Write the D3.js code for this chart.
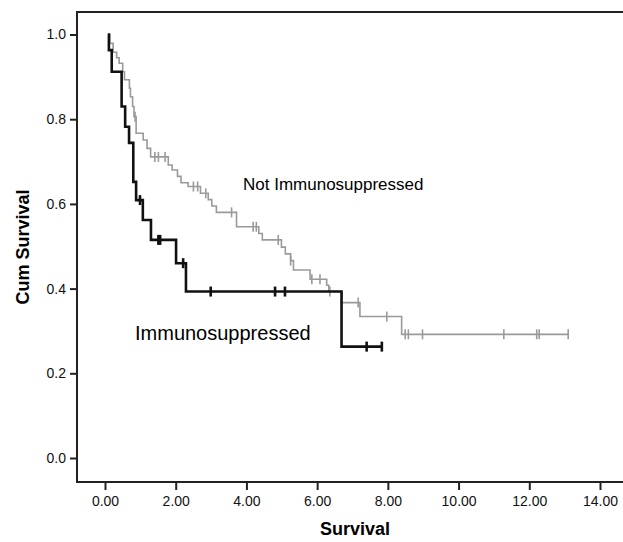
<!DOCTYPE html>
<html>
<head>
<meta charset="utf-8">
<script src="https://cdn.jsdelivr.net/npm/d3@7"></script>
<style>
  body { margin: 0; background: #fff; }
  text { font-family: Arial, "Liberation Sans", sans-serif; }
</style>
</head>
<body>
<div class="box"></div>
<script>
// DATA

const xTicks = [0, 2, 4, 6, 8, 10, 12, 14];
const yTicks = [0, 0.2, 0.4, 0.6, 0.8, 1.0];

// Immunosuppressed: step curve (time, cum survival after step)
const immTime = [0.08, 0.11, 0.19, 0.47, 0.57, 0.68, 0.80, 0.88, 1.07, 1.30, 2.01, 2.29, 6.69, 7.83];
const immSurv = [1.0, 0.963, 0.912, 0.830, 0.782, 0.744, 0.652, 0.609, 0.562, 0.515, 0.460, 0.393, 0.263, 0.263];
const immCensTime = [0.99, 1.51, 1.56, 2.21, 2.99, 4.81, 5.09, 7.40, 7.83];
const immCensSurv = [0.609, 0.515, 0.515, 0.460, 0.393, 0.393, 0.393, 0.263, 0.263];

// Not Immunosuppressed
const notTime = [0.10, 0.14, 0.23, 0.33, 0.40, 0.50, 0.55, 0.69, 0.72, 0.78, 0.82, 0.88, 1.08, 1.19, 1.29,
                 1.79, 1.90, 2.05, 2.15, 2.35, 2.70, 2.92, 3.02, 3.15, 3.72, 4.35, 4.45, 4.99, 5.10, 5.25,
                 5.33, 5.80, 6.27, 6.33, 6.69, 7.21, 8.39, 13.10];
const notSurv = [1.0, 0.979, 0.958, 0.945, 0.932, 0.912, 0.893, 0.873, 0.853, 0.830, 0.806, 0.767, 0.751, 0.731, 0.711,
                 0.692, 0.680, 0.665, 0.650, 0.641, 0.625, 0.610, 0.595, 0.580, 0.546, 0.530, 0.515, 0.498, 0.482, 0.466,
                 0.444, 0.422, 0.408, 0.393, 0.367, 0.334, 0.292, 0.292];
const notCensTime = [0.85, 1.41, 1.51, 1.70, 2.50, 2.62, 2.85, 3.58, 4.19, 4.28, 4.90, 5.25, 5.85, 6.08, 6.36,
                     7.16, 7.97, 8.49, 8.58, 8.98, 11.28, 12.21, 12.28, 13.10];
const notCensSurv = [0.806, 0.711, 0.711, 0.711, 0.641, 0.641, 0.625, 0.580, 0.546, 0.546, 0.515, 0.466, 0.422, 0.422, 0.393,
                     0.367, 0.334, 0.292, 0.292, 0.292, 0.292, 0.292, 0.292, 0.292];

// SVG

const width = 623, height = 542;
const plotLeft = 77, plotTop = 12, plotBottom = 482;

const svg = d3.select('.box').append('svg')
              .attr('width', width)
              .attr('height', height);

const x = d3.scaleLinear().domain([0, 14]).range([105, 600]);
const y = d3.scaleLinear().domain([0, 1]).range([458, 34.5]);

// frame: top border
svg.append('line')
   .attr('x1', plotLeft).attr('x2', width)
   .attr('y1', plotTop).attr('y2', plotTop)
   .attr('stroke', '#222').attr('stroke-width', 2);

// axes
const xAxis = svg.append('g')
   .attr('transform', `translate(0,${plotBottom})`)
   .call(d3.axisBottom(x).tickValues(xTicks).tickFormat(d3.format('.2f')).tickSize(8).tickPadding(6));

const yAxis = svg.append('g')
   .attr('transform', `translate(${plotLeft},0)`)
   .call(d3.axisLeft(y).tickValues(yTicks).tickFormat(d3.format('.1f')).tickSize(7).tickPadding(4));

[xAxis, yAxis].forEach(a => {
  a.select('.domain').remove();
  a.selectAll('.tick line').attr('stroke', '#222').attr('stroke-width', 2);
  a.selectAll('.tick text').attr('fill', '#111').style('font-size', '14px');
});

svg.append('line')
   .attr('x1', plotLeft).attr('x2', width)
   .attr('y1', plotBottom).attr('y2', plotBottom)
   .attr('stroke', '#222').attr('stroke-width', 2);
svg.append('line')
   .attr('x1', plotLeft).attr('x2', plotLeft)
   .attr('y1', plotTop - 1).attr('y2', plotBottom + 1)
   .attr('stroke', '#222').attr('stroke-width', 2);

// curves
const line = d3.line()
   .x(d => x(d[0]))
   .y(d => y(d[1]))
   .curve(d3.curveStepAfter);

function drawGroup(times, surv, cTimes, cSurv, color, w) {
  const pts = times.map((t, i) => [t, surv[i]]);
  svg.append('path')
     .attr('d', line(pts))
     .attr('fill', 'none')
     .attr('stroke', color)
     .attr('stroke-width', w);
  svg.append('g').selectAll('line')
     .data(cTimes.map((t, i) => [t, cSurv[i]]))
     .join('line')
     .attr('x1', d => x(d[0])).attr('x2', d => x(d[0]))
     .attr('y1', d => y(d[1]) - 5).attr('y2', d => y(d[1]) + 5)
     .attr('stroke', color)
     .attr('stroke-width', w);
}

drawGroup(notTime, notSurv, notCensTime, notCensSurv, '#9a9a9a', 1.6);
drawGroup(immTime, immSurv, immCensTime, immCensSurv, '#111', 2.6);

// labels
svg.append('text')
   .attr('x', 243).attr('y', 190)
   .style('font-size', '17px')
   .text('Not Immunosuppressed');

svg.append('text')
   .attr('x', 135).attr('y', 340)
   .style('font-size', '20px')
   .text('Immunosuppressed');

svg.append('text')
   .attr('x', 355).attr('y', 535)
   .attr('text-anchor', 'middle')
   .style('font-size', '18px').style('font-weight', 'bold')
   .text('Survival');

svg.append('text')
   .attr('transform', 'translate(29,247) rotate(-90)')
   .attr('text-anchor', 'middle')
   .style('font-size', '18px').style('font-weight', 'bold')
   .text('Cum Survival');
</script>
</body>
</html>
